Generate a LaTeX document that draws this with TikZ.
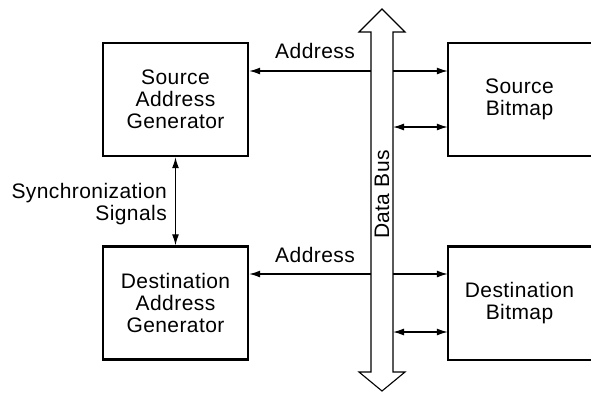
\documentclass[tikz,border=0pt]{standalone}
\usepackage{fontspec}
\setmainfont[LetterSpace=2]{Liberation Sans}
\usetikzlibrary{arrows.meta}

\tikzset{
  boxline/.style={line width=2.4pt},
  genbox/.style={draw, boxline, minimum width=145pt, minimum height=113pt,
    align=center, inner sep=0pt},
  bitmapbox/.style={minimum width=143pt, minimum height=113pt,
    align=center, inner sep=0pt},
  lbl/.style={inner sep=0pt},
  sig/.style={line width=1.3pt, ->},
  bisig/.style={line width=1.3pt, <->},
  busline/.style={line width=1.1pt, fill=white, line join=miter}
}

\begin{document}
\begin{tikzpicture}[x=1pt, y=-1pt, font=\fontsize{21}{22}\selectfont,
    >={Latex[length=11pt,width=7pt]}]
  \useasboundingbox (0,0) rectangle (591,392);

  % address generators
  \node[genbox] (sag) at (175.5,99.5) {Source\\Address\\Generator};
  \node[genbox] (dag) at (175.5,303)  {Destination\\Address\\Generator};

  % bitmaps (open on the right)
  \node[bitmapbox] (sbm) at (519.5,99.5) {Source\\Bitmap};
  \node[bitmapbox] (dbm) at (519.5,303)  {Destination\\Bitmap};
  \draw[boxline] (sbm.north east) -- (sbm.north west) -- (sbm.south west) -- (sbm.south east);
  \draw[boxline] (dbm.north east) -- (dbm.north west) -- (dbm.south west) -- (dbm.south east);

  % data bus: double-headed hollow arrow
  \draw[busline] (382,9) -- (405,32) -- (393,32) -- (393,372) -- (405,372)
    -- (382,391) -- (359,372) -- (371,372) -- (371,32) -- (359,32) -- cycle;
  \node[lbl, rotate=90] (bus) at (382,194.5) {Data Bus};

  % bus edge points
  \coordinate (sL) at (371,71);
  \coordinate (sR) at (393,71);
  \coordinate (sD) at (393,127);
  \coordinate (dL) at (371,274);
  \coordinate (dR) at (393,274);
  \coordinate (dD) at (393,332);

  % source side
  \draw[sig] (sL) -- (sL -| sag.east);
  \draw[sig] (sR) -- (sR -| sbm.west);
  \draw[bisig] (sD) -- (sD -| sbm.west);
  \node[lbl, anchor=base east] (sa) at (355,58) {Address};

  % destination side
  \draw[sig] (dL) -- (dL -| dag.east);
  \draw[sig] (dR) -- (dR -| dbm.west);
  \draw[bisig] (dD) -- (dD -| dbm.west);
  \node[lbl, anchor=base east] (da) at (355,262) {Address};

  % synchronization between generators
  \draw[bisig] (sag.south) -- (dag.north);
  \node[lbl, anchor=east, align=right] (sync) at (167,204) {Synchronization\\Signals};
\end{tikzpicture}
\end{document}
